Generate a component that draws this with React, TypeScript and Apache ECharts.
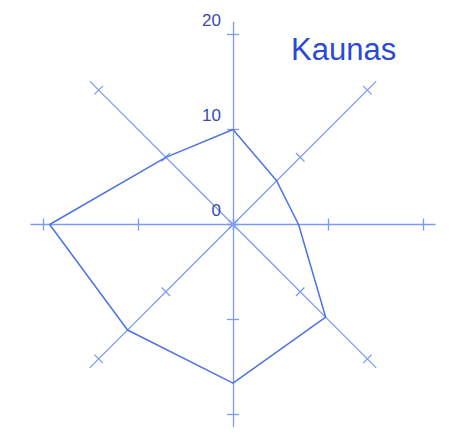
import React, { useEffect, useRef } from "react";
import * as echarts from "echarts";

// Compass directions, clockwise from north
const directions = ["N", "NE", "E", "SE", "S", "SW", "W", "NW"];
// Values (same order as directions)
const kaunasValues = [10, 6.5, 6.9, 13.8, 16.7, 15.7, 19.3, 10];
const tickMax = 20;
const axisTickLabels = ["0", "10", "20"];
const title = "Kaunas";

// ECharts radar lays indicators counter-clockwise from the top
const ccwOrder = [0, 7, 6, 5, 4, 3, 2, 1];

const CX = 225;
const CY = 216.5;
const AXIS_COLOR = "#7b9cf2";
const LINE_COLOR = "#4f72e6";
const LABEL_COLOR = "#3a4aae";

export default function App() {
  const ref = useRef<HTMLDivElement>(null);
  useEffect(() => {
    if (!ref.current) return;
    const chart = echarts.init(ref.current, undefined, { renderer: "svg" });
    const indicatorsFor = (max: number, labelOnNorth: boolean) =>
      ccwOrder.map((i) => ({
        name: directions[i],
        max,
        min: 0,
        ...(labelOnNorth && i === 0 ? { axisLabel: { show: true } } : {}),
      }));
    const baseRadar = {
      center: [CX, CY],
      startAngle: 90,
      shape: "polygon",
      axisName: { show: false },
      splitLine: { show: false },
      splitArea: { show: false },
      axisLabel: { show: false },
    };
    chart.setOption({
      animation: false,
      title: {
        text: title,
        left: 278,
        top: 21,
        textStyle: {
          fontFamily: "Liberation Sans",
          fontSize: 31,
          fontWeight: "normal",
          color: "#2a4ad6",
        },
      },
      radar: [
        {
          ...baseRadar,
          radius: 202,
          indicator: indicatorsFor(21, false),
          axisLine: { show: true, lineStyle: { color: AXIS_COLOR, width: 1.3 } },
          axisTick: { show: false },
        },
        {
          ...baseRadar,
          radius: 190,
          splitNumber: 2,
          indicator: indicatorsFor(tickMax, true),
          axisLine: { show: false },
          axisTick: { show: true, length: 6, lineStyle: { color: AXIS_COLOR, width: 1.3 } },
          axisLabel: {
            show: false,
            color: LABEL_COLOR,
            fontFamily: "Liberation Sans",
            fontSize: 17,
            verticalAlign: "bottom",
            lineHeight: 17,
            padding: [0, 4, 6, 0],
            formatter: (v: number) => axisTickLabels[Math.round(v / 10)] ?? String(v),
          },
        },
        {
          ...baseRadar,
          radius: 190,
          splitNumber: 2,
          indicator: indicatorsFor(tickMax, false),
          axisLine: { show: false },
          axisTick: { show: true, length: -6, lineStyle: { color: AXIS_COLOR, width: 1.3 } },
        },
      ],
      series: [
        {
          type: "radar",
          radarIndex: 1,
          symbol: "none",
          lineStyle: { color: LINE_COLOR, width: 1.5 },
          data: [{ name: title, value: ccwOrder.map((i) => kaunasValues[i]) }],
        },
      ],
    });
    return () => chart.dispose();
  }, []);
  return <div ref={ref} style={{ width: 433, height: 430 }} />;
}
